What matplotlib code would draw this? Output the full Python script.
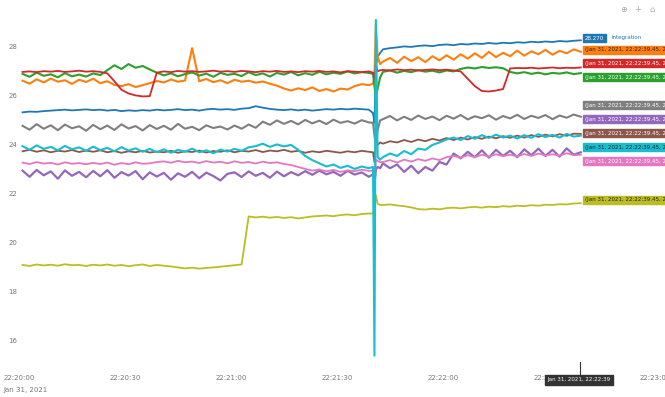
import numpy as np
import matplotlib
matplotlib.use('Agg')
import matplotlib.pyplot as plt
import matplotlib.dates as mdates

# sample times in seconds after 22:20:00, denser around the glitch at ~101 s
t_sec = np.concatenate([np.arange(1, 100, 2),
                        [100.2, 100.6, 101.0, 101.5, 102.2],
                        np.arange(103, 160, 2)])
start = np.datetime64('2021-01-31T22:20:00')
times = start + (t_sec * 1000).astype('timedelta64[ms]')

blue = [25.33, 25.36, 25.35, 25.38, 25.40, 25.42, 25.44, 25.41, 25.43, 25.45,
        25.42, 25.44, 25.40, 25.43, 25.38, 25.41, 25.39, 25.42, 25.40, 25.44,
        25.41, 25.43, 25.46, 25.42, 25.44, 25.40, 25.45, 25.47, 25.44, 25.46,
        25.43, 25.48, 25.50, 25.58, 25.52, 25.47, 25.44, 25.42, 25.45, 25.41,
        25.44, 25.40, 25.43, 25.46, 25.44, 25.47, 25.45, 25.48, 25.46, 25.44,
        25.30, 24.90, 27.20, 27.60, 27.75,
        27.90, 27.95, 27.98, 28.02, 28.00, 28.04, 28.06, 28.03, 28.08, 28.10,
        28.07, 28.12, 28.10, 28.14, 28.12, 28.16, 28.13, 28.17, 28.15, 28.19,
        28.17, 28.21, 28.19, 28.22, 28.20, 28.24, 28.22, 28.25, 28.27]

orange = [26.62, 26.50, 26.68, 26.55, 26.71, 26.58, 26.64, 26.49, 26.66, 26.57,
          26.70, 26.52, 26.60, 26.45, 26.40, 26.48, 26.36, 26.44, 26.52, 26.61,
          26.55, 26.67, 26.58, 26.63, 27.95, 26.60, 26.69, 26.56, 26.64, 26.52,
          26.66, 26.58, 26.62, 26.54, 26.59, 26.50, 26.42, 26.30, 26.22, 26.31,
          26.24, 26.35, 26.20, 26.28, 26.18, 26.30, 26.26, 26.40, 26.48, 26.44,
          26.50, 26.80, 28.90, 27.60, 27.30,
          27.40, 27.55, 27.35, 27.60, 27.42, 27.58, 27.38, 27.62, 27.45, 27.66,
          27.48, 27.70, 27.52, 27.74, 27.55, 27.80, 27.58, 27.76, 27.62, 27.85,
          27.64, 27.82, 27.70, 27.88, 27.68, 27.84, 27.74, 27.90, 27.80]

green = [26.90, 26.78, 26.95, 26.82, 26.88, 26.76, 26.93, 26.80, 26.87, 26.79,
         26.92, 26.85, 27.05, 27.25, 27.10, 27.30, 27.15, 27.22, 27.08, 26.95,
         26.84, 26.92, 26.80, 26.89, 26.96, 26.83, 26.91, 26.78, 26.94, 26.86,
         26.90, 26.81, 26.97, 26.85, 26.92, 26.79, 26.94, 26.87, 26.98, 26.84,
         26.93, 26.86, 26.99, 26.88, 26.95, 26.90, 27.00, 26.92, 26.97, 26.94,
         26.90, 26.40, 25.95, 26.30, 26.75,
         26.98, 27.04, 26.95, 27.02, 26.97, 27.05, 26.99, 27.03, 26.96, 27.04,
         27.00, 27.10, 27.16, 27.12, 27.18, 27.14, 27.17, 27.13, 26.98, 26.92,
         26.97, 26.90, 26.95, 26.88, 26.94, 26.91, 26.96, 26.89, 26.93]

red = [26.98, 27.00, 26.97, 27.01, 26.99, 27.02, 26.98, 27.00, 27.03, 26.99,
       27.01, 26.98, 26.92, 26.60, 26.25, 26.10, 26.02, 25.98, 25.99, 26.95,
       27.00, 26.97, 27.02, 26.99, 27.01, 26.98, 27.00, 27.03, 26.99, 27.01,
       26.98, 27.02, 27.00, 26.97, 27.01, 26.99, 27.02, 26.98, 27.00, 26.97,
       27.01, 26.99, 27.02, 26.98, 27.00, 26.96, 27.01, 26.99, 26.97, 27.00,
       26.95, 26.70, 27.30, 27.00, 27.05,
       27.06, 27.04, 27.08, 27.05, 27.07, 27.04, 27.06, 27.08, 27.05, 27.07,
       27.04, 27.00, 26.70, 26.40, 26.20, 26.18, 26.22, 26.28, 27.12, 27.14,
       27.13, 27.15, 27.12, 27.14, 27.16, 27.13, 27.15, 27.14, 27.16]

purple = [22.95, 22.70, 22.98, 22.76, 22.92, 22.62, 22.96, 22.74, 22.90, 22.68,
          22.94, 22.72, 22.97, 22.66, 22.89, 22.75, 22.93, 22.60, 22.88, 22.71,
          22.86, 22.58, 22.84, 22.70, 22.90, 22.64, 22.87, 22.73, 22.55, 22.82,
          22.88, 22.69, 22.92, 22.74, 22.86, 22.66, 22.91, 22.72, 22.89, 22.76,
          22.93, 22.78, 22.95, 22.80, 22.90, 22.74, 22.94, 22.79, 22.88, 22.70,
          22.80, 22.40, 23.00, 23.10, 23.05,
          23.25, 23.05, 23.20, 22.90, 23.15, 22.85, 23.10, 22.95, 23.30, 23.20,
          23.65, 23.45, 23.72, 23.50, 23.78, 23.48, 23.80, 23.55, 23.76, 23.50,
          23.82, 23.58, 23.85, 23.55, 23.80, 23.52, 23.86, 23.60, 23.70]

brown = [23.74, 23.80, 23.72, 23.78, 23.70, 23.76, 23.73, 23.79, 23.71, 23.77,
         23.72, 23.78, 23.70, 23.75, 23.68, 23.74, 23.70, 23.76, 23.69, 23.73,
         23.70, 23.76, 23.68, 23.74, 23.71, 23.77, 23.69, 23.75, 23.72, 23.78,
         23.70, 23.76, 23.73, 23.79, 23.71, 23.77, 23.74, 23.80, 23.72, 23.76,
         23.68, 23.74, 23.70, 23.76, 23.72, 23.68, 23.74, 23.70, 23.76, 23.72,
         23.70, 23.30, 24.20, 24.00, 24.10,
         24.05, 24.15, 24.10, 24.20, 24.12, 24.22, 24.15, 24.25, 24.18, 24.28,
         24.20, 24.30, 24.22, 24.32, 24.25, 24.34, 24.27, 24.36, 24.29, 24.38,
         24.30, 24.40, 24.33, 24.42, 24.35, 24.44, 24.37, 24.46, 24.45]

pink = [23.28, 23.22, 23.30, 23.24, 23.27, 23.20, 23.29, 23.23, 23.26, 23.21,
        23.27, 23.22, 23.28, 23.19, 23.26, 23.21, 23.29, 23.23, 23.25, 23.30,
        23.33, 23.27, 23.35, 23.29, 23.32, 23.26, 23.34, 23.28, 23.31, 23.25,
        23.33, 23.27, 23.30, 23.24, 23.32, 23.26, 23.29, 23.22, 23.18, 23.10,
        23.02, 22.95, 23.00, 22.92, 22.98, 22.90, 22.96, 22.93, 22.99, 22.94,
        22.95, 22.50, 23.40, 23.35, 23.30,
        23.30, 23.38, 23.28, 23.40, 23.32, 23.42, 23.35, 23.45, 23.38, 23.50,
        23.55, 23.48, 23.58, 23.50, 23.60, 23.52, 23.62, 23.54, 23.60, 23.53,
        23.63, 23.55, 23.65, 23.57, 23.62, 23.56, 23.66, 23.58, 23.60]

gray = [24.78, 24.62, 24.85, 24.66, 24.80, 24.60, 24.83, 24.68, 24.76, 24.58,
        24.82, 24.64, 24.79, 24.61, 24.84, 24.67, 24.77, 24.59, 24.81, 24.65,
        24.78, 24.62, 24.86, 24.66, 24.74, 24.60, 24.80, 24.69, 24.75, 24.63,
        24.79, 24.66, 24.83, 24.70, 24.95, 24.82, 25.00, 24.86, 24.98, 24.84,
        25.02, 24.88, 24.99, 24.85, 25.03, 24.90, 24.97, 24.87, 25.01, 24.92,
        24.90, 24.40, 24.00, 24.60, 25.00,
        25.05, 25.18, 25.00, 25.15, 25.02, 25.20, 25.06, 25.16, 25.01, 25.19,
        25.07, 25.22, 25.04, 25.17, 25.09, 25.21, 25.03, 25.18, 25.08, 25.23,
        25.06, 25.19, 25.10, 25.22, 25.05, 25.20, 25.11, 25.24, 25.15]

olive = [19.10, 19.06, 19.12, 19.08, 19.11, 19.07, 19.13, 19.09, 19.10, 19.06,
         19.11, 19.08, 19.12, 19.07, 19.10, 19.05, 19.09, 19.12, 19.06, 19.10,
         19.07, 19.04, 19.00, 18.96, 18.99, 18.95, 18.98, 19.00, 19.03, 19.06,
         19.09, 19.12, 21.08, 21.04, 21.07, 21.03, 21.06, 21.02, 21.05, 21.00,
         21.04, 21.08, 21.10, 21.12, 21.09, 21.14, 21.16, 21.13, 21.18, 21.20,
         21.20, 21.40, 21.95, 21.60, 21.55,
         21.55, 21.57, 21.53, 21.50, 21.45, 21.38, 21.36, 21.40, 21.37, 21.42,
         21.44, 21.41, 21.45, 21.47, 21.44, 21.48, 21.46, 21.50, 21.48, 21.52,
         21.50, 21.54, 21.52, 21.56, 21.55, 21.58, 21.57, 21.61, 21.62]

cyan = [23.95, 23.80, 23.98, 23.84, 23.92, 23.78, 23.96, 23.82, 23.90, 23.76,
        23.93, 23.79, 23.88, 23.74, 23.91, 23.77, 23.86, 23.72, 23.84, 23.70,
        23.82, 23.68, 23.80, 23.72, 23.85, 23.70, 23.78, 23.66, 23.81, 23.73,
        23.84, 23.76, 23.90, 23.95, 24.05, 23.92, 24.02, 23.94, 24.00, 23.80,
        23.55, 23.38, 23.25, 23.12, 23.20, 23.06, 23.15, 23.02, 23.12, 23.05,
        23.10, 15.40, 29.10, 23.50, 23.40,
        23.50, 23.65, 23.55, 23.75, 23.62, 23.85, 23.80, 24.00, 24.10, 24.22,
        24.30, 24.20, 24.36, 24.25, 24.40, 24.28, 24.42, 24.30, 24.38, 24.26,
        24.40, 24.29, 24.44, 24.32, 24.41, 24.30, 24.45, 24.34, 24.38]

# plotly default trace order / colours, (name, values, colour, width)
series = [('integration', blue, '#1f77b4', 1.3),
          ('trace 1', orange, '#ff7f0e', 1.5),
          ('trace 2', green, '#2ca02c', 1.5),
          ('trace 3', red, '#d62728', 1.3),
          ('trace 4', purple, '#9467bd', 1.6),
          ('trace 5', brown, '#8c564b', 1.3),
          ('trace 6', pink, '#e377c2', 1.3),
          ('trace 7', gray, '#7f7f7f', 1.5),
          ('trace 8', olive, '#bcbd22', 1.3),
          ('trace 9', cyan, '#17becf', 1.5)]

y_ticks = [16, 18, 20, 22, 24, 26, 28]

W, H = 665, 397
fig = plt.figure(figsize=(W / 100, H / 100), dpi=100)
ax = fig.add_axes([19 / W, 1 - 362 / H, (655 - 19) / W, (362 - 18) / H])

for name, vals, col, lw in series:
    ax.plot(times, vals, color=col, lw=lw, label=name)

ax.set_xlim(start, start + np.timedelta64(180, 's'))
ax.set_ylim(15.14, 29.18)
ax.set_yticks(y_ticks)
ax.set_yticklabels([str(v) for v in y_ticks])

ax.xaxis.set_major_locator(mdates.SecondLocator(bysecond=[0, 30]))
ax.xaxis.set_major_formatter(mdates.DateFormatter('%H:%M:%S'))

for side in ['top', 'right', 'left', 'bottom']:
    ax.spines[side].set_visible(False)
ax.tick_params(axis='y', length=0, pad=1.5, labelsize=5, labelcolor='#777777')
ax.tick_params(axis='x', length=0, pad=9, labelsize=5, labelcolor='#777777')

# date line under the first time label
fig.text(3 / W, 1 - 390 / H, 'Jan 31, 2021', fontsize=5, color='#777777',
         ha='left', va='center')

# hover labels at the right hand side
hover_i = len(t_sec) - 1
hover_txt = 'Jan 31, 2021, 22:22:39'
box_y = {'integration': 38, 'trace 1': 50, 'trace 3': 63, 'trace 2': 77,
         'trace 7': 105, 'trace 4': 119, 'trace 5': 133, 'trace 9': 147,
         'trace 6': 161, 'trace 8': 200}
light = ['#ff7f0e', '#bcbd22', '#17becf']
for name, vals, col, lw in series:
    yy = 1 - box_y[name] / H
    tc = '#222222' if col in light else 'white'
    if name == 'integration':
        txt = '%.3f' % vals[hover_i]
        fig.text(585 / W, yy, txt, fontsize=4, color='white', va='center',
                 ha='left', bbox=dict(boxstyle='square,pad=0.35', fc=col, ec=col))
        fig.text(612 / W, yy, name, fontsize=4, color=col, va='center', ha='left')
    else:
        txt = '(%s.45, %.3f)' % (hover_txt, vals[hover_i])
        fig.text(585 / W, yy, txt, fontsize=4, color=tc, va='center',
                 ha='left', bbox=dict(boxstyle='square,pad=0.35', fc=col, ec=col))

# x spike label at the bottom
fig.text(579 / W, 1 - 380 / H, hover_txt, fontsize=4, color='white',
         va='center', ha='center', zorder=5,
         bbox=dict(boxstyle='square,pad=0.4', fc='#333333', ec='#333333'))
fig.lines.append(plt.Line2D([580 / W, 580 / W], [1 - 362 / H, 1 - 374 / H],
                            transform=fig.transFigure, color='#333333', lw=0.8))

# modebar icons
for xi, ch in zip([624, 638, 652], ['⊕', '+', '⌂']):
    fig.text(xi / W, 1 - 10 / H, ch, fontsize=6, color='#aaaaaa',
             ha='center', va='center')

fig.savefig('out.png', dpi=100)
